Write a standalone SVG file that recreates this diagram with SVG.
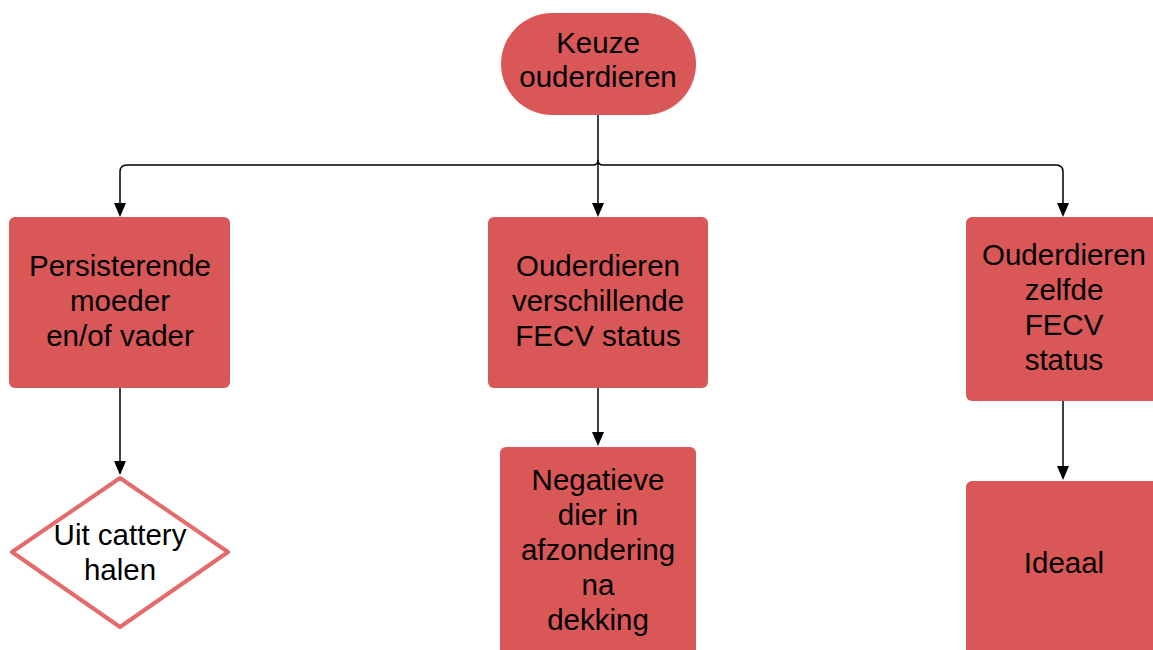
<svg xmlns="http://www.w3.org/2000/svg" width="1153" height="650" viewBox="0 0 1153 650">
<defs>
<style>
.box{fill:#d95757;}
.dia{fill:#fff;stroke:#e46b6b;stroke-width:4;stroke-linejoin:round;}
.t{font-family:"Liberation Sans",Arial,sans-serif;font-size:29.5px;fill:#000;text-anchor:middle;}
.c{fill:none;stroke:#000;stroke-width:1.5;}
</style>
</defs>
<rect width="1153" height="650" fill="#fff"/>
<g id="connectors">
<path class="c" d="M598,115 V206"/>
<path d="M592,203 L604,203 L598,217 Z"/>
<path class="c" d="M120,206 V172 Q120,165 127,165 H593 Q598,165 598,160 Q598,165 603,165 H1056 Q1063,165 1063,172 V206"/>
<path d="M114,203 L126,203 L120,217 Z"/>
<path d="M1057,203 L1069,203 L1063,217 Z"/>
<path class="c" d="M120,388 V464"/>
<path d="M114,461 L126,461 L120,475 Z"/>
<path class="c" d="M598,388 V433"/>
<path d="M592,432 L604,432 L598,446 Z"/>
<path class="c" d="M1063,401 V467"/>
<path d="M1057,466 L1069,466 L1063,480 Z"/>
</g>
<g id="n-keuze">
<rect class="box" x="501" y="13" width="195" height="102" rx="51" ry="51"/>
<text class="t" x="598" y="53">Keuze</text>
<text class="t" x="598" y="87">ouderdieren</text>
</g>
<g id="n-persisterend">
<rect class="box" x="9" y="217" width="221" height="171" rx="6"/>
<text class="t" x="120" y="276">Persisterende</text>
<text class="t" x="120" y="311">moeder</text>
<text class="t" x="120" y="346">en/of vader</text>
</g>
<g id="n-verschillend">
<rect class="box" x="488" y="217" width="220" height="171" rx="6"/>
<text class="t" x="598" y="276">Ouderdieren</text>
<text class="t" x="598" y="311">verschillende</text>
<text class="t" x="598" y="346">FECV status</text>
</g>
<g id="n-zelfde">
<rect class="box" x="966" y="217" width="196" height="184" rx="6"/>
<text class="t" x="1064" y="265">Ouderdieren</text>
<text class="t" x="1064" y="300">zelfde</text>
<text class="t" x="1064" y="335">FECV</text>
<text class="t" x="1064" y="370">status</text>
</g>
<g id="n-uit">
<path class="dia" d="M120,478 L228,552 L120,627 L12,552 Z"/>
<text class="t" x="120" y="545">Uit cattery</text>
<text class="t" x="120" y="580">halen</text>
</g>
<g id="n-negatief">
<rect class="box" x="500" y="447" width="196" height="210" rx="6"/>
<text class="t" x="598" y="490">Negatieve</text>
<text class="t" x="598" y="525">dier in</text>
<text class="t" x="598" y="560">afzondering</text>
<text class="t" x="598" y="595">na</text>
<text class="t" x="598" y="630">dekking</text>
</g>
<g id="n-ideaal">
<rect class="box" x="966" y="481" width="196" height="180" rx="6"/>
<text class="t" x="1064" y="573">Ideaal</text>
</g>
</svg>
